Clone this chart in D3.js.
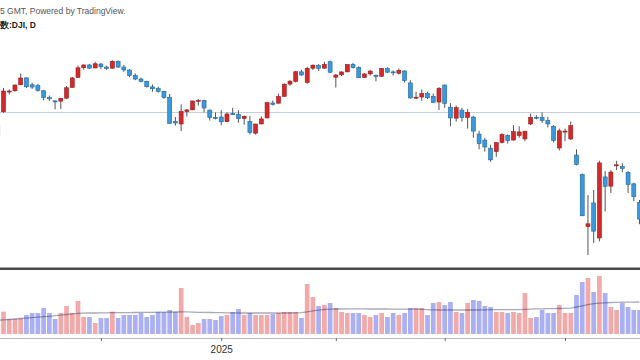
<!DOCTYPE html>
<html>
<head>
<meta charset="utf-8">
<script src="https://cdn.jsdelivr.net/npm/d3@7"></script>
<style>
body { margin: 0; background: #fff; }
svg { display: block; font-family: "Liberation Sans", Arial, sans-serif; }
</style>
</head>
<body>
<script>
// trading days, Nov 5 2024 .. Apr 21 2025
var days = [
  "2024-11-05","2024-11-06","2024-11-07","2024-11-08","2024-11-11","2024-11-12","2024-11-13","2024-11-14","2024-11-15","2024-11-18","2024-11-19","2024-11-20","2024-11-21","2024-11-22","2024-11-25","2024-11-26","2024-11-27","2024-11-29",
  "2024-12-02","2024-12-03","2024-12-04","2024-12-05","2024-12-06","2024-12-09","2024-12-10","2024-12-11","2024-12-12","2024-12-13","2024-12-16","2024-12-17","2024-12-18","2024-12-19","2024-12-20","2024-12-23","2024-12-24","2024-12-26","2024-12-27","2024-12-30","2024-12-31",
  "2025-01-02","2025-01-03","2025-01-06","2025-01-07","2025-01-08","2025-01-10","2025-01-13","2025-01-14","2025-01-15","2025-01-16","2025-01-17","2025-01-21","2025-01-22","2025-01-23","2025-01-24","2025-01-27","2025-01-28","2025-01-29","2025-01-30","2025-01-31",
  "2025-02-03","2025-02-04","2025-02-05","2025-02-06","2025-02-07","2025-02-10","2025-02-11","2025-02-12","2025-02-13","2025-02-14","2025-02-18","2025-02-19","2025-02-20","2025-02-21","2025-02-24","2025-02-25","2025-02-26","2025-02-27","2025-02-28",
  "2025-03-03","2025-03-04","2025-03-05","2025-03-06","2025-03-07","2025-03-10","2025-03-11","2025-03-12","2025-03-13","2025-03-14","2025-03-17","2025-03-18","2025-03-19","2025-03-20","2025-03-21","2025-03-24","2025-03-25","2025-03-26","2025-03-27","2025-03-28","2025-03-31",
  "2025-04-01","2025-04-02","2025-04-03","2025-04-04","2025-04-07","2025-04-08","2025-04-09","2025-04-10","2025-04-11","2025-04-14","2025-04-15","2025-04-16","2025-04-17","2025-04-21"
];

var open = [41794,42830,43700,43740,44000,44300,44000,43960,43740,43440,43300,43290,43420,43880,44320,44740,44860,44730,
  44900,44770,44720,45020,44770,44640,44400,44250,44150,43910,43830,43720,43460,42400,42300,42840,42910,43290,43320,42900,42580,
  42600,42400,42750,42720,42530,42400,41900,42300,42560,43210,43200,43500,44030,44150,44560,44100,44720,44840,44720,45000,
  44330,44430,44560,44880,44750,44310,44470,44400,44370,44700,44560,44500,44600,44080,43440,43470,43630,43500,43250,
  43990,43030,42550,42900,42580,42600,41860,41600,41250,41100,41500,41800,41600,41800,41650,42300,42590,42590,42450,42200,41256,
  41950,41650,40950,40100,37850,38870,37350,40000,39600,40500,40450,40200,39700,38900];
var high = [42257,43860,43800,44010,44486,44320,44090,44040,43780,43530,43320,43430,43940,44340,44830,44880,44900,45000,
  44950,44830,45060,45054,44860,44680,44490,44310,44170,44010,43920,43730,43600,42600,43150,42940,43300,43380,43350,42920,42800,
  42900,42800,43000,42900,42660,42640,42300,42630,43260,43320,43620,44060,44200,44600,44650,44780,44880,44900,45000,45050,
  44470,44580,44890,44950,44800,44500,44650,44450,44720,44760,44620,44700,44620,44200,43700,43800,43700,43620,43900,
  44000,43200,43100,43000,42950,42650,42000,41700,41400,41500,41900,41850,42250,42200,42000,42750,42680,42800,42600,42250,42100,
  42100,42400,41200,40150,39215,39430,40700,40250,40300,40700,40600,40250,39750,39000];
var low = [41737,42780,43580,43700,43990,43860,43820,43700,43320,43300,42930,42950,43380,43870,44310,44650,44680,44720,
  44680,44650,44700,44750,44560,44330,44200,44110,43880,43700,43660,43390,42300,42230,41990,42620,42900,43100,42800,42450,42500,
  42240,42380,42680,42350,42270,41840,41840,42280,42550,43100,43190,43480,43960,44100,44400,44050,44640,44600,44700,44500,
  43880,44380,44540,44700,44290,44300,44400,44150,44330,44500,44400,44450,44100,43400,43380,43300,43380,43200,42900,
  43000,42200,42400,42400,42100,41700,41200,41100,40660,40870,41450,41450,41580,41700,41550,42250,42500,42350,42150,41500,41150,
  41550,41600,40500,38300,36612,37130,37200,38500,39300,40300,40200,39300,38950,37950];
var close = [42222,43729,43729,43989,44293,43911,43900,43751,43445,43390,43268,43408,43870,44297,44736,44860,44722,44911,
  44782,44705,45014,44766,44643,44402,44248,44149,43914,43828,43717,43450,42327,42342,42840,42907,43297,43326,42992,42574,42544,
  42392,42732,42706,42528,42635,41938,42297,42518,43222,43153,43488,44025,44157,44565,44424,44714,44850,44714,44882,44545,
  44422,44556,44873,44747,44303,44470,44594,44368,44711,44546,44556,44628,44177,43428,43461,43621,43433,43240,43841,
  43191,42560,43006,42579,42802,41990,41450,41300,40740,41488,41842,41581,41965,41953,41985,42583,42588,42455,42300,41584,42002,
  41990,42225,40546,38315,37966,37646,40608,39594,40213,40525,40369,39669,39142,38170];

// volume, millions
var volume = [300,372,250,250,260,317,350,350,433,350,250,350,467,350,550,283,283,183,
  267,267,372,267,317,317,317,350,283,317,367,367,400,367,767,283,150,183,250,250,233,
  300,317,367,417,317,350,317,317,317,333,350,367,367,367,267,833,617,467,483,517,
  433,367,350,350,350,317,283,317,350,283,350,317,350,433,433,433,317,517,533,
  483,533,367,350,517,567,550,467,450,367,367,350,367,350,683,267,283,400,350,350,483,
  350,350,650,867,933,700,967,683,450,400,517,450,400,400];
var volumeMA = [230,235,242,250,258,265,272,280,288,295,305,315,325,335,345,348,350,350,
  352,352,355,355,355,357,358,360,360,362,363,365,366,367,370,368,365,362,360,358,356,
  355,353,352,350,350,350,350,350,350,350,350,350,350,352,355,370,385,398,408,415,
  417,417,418,418,418,418,417,417,417,417,416,416,415,415,415,410,405,402,400,
  400,400,400,400,400,400,400,402,405,405,405,405,405,405,410,415,418,420,422,422,425,
  428,430,450,470,490,505,515,520,525,528,530,530,532,533];

var monthTicks = ["2024-12-02","2025-01-02","2025-02-03","2025-03-03","2025-04-01"];
var monthLabels = ["", "2025", "", "", ""];
var refLevel = 42820;

var width = 640,
    height = 360,
    candleW = 4,
    volW = 4.7,
    upColor = "#d22a2a",
    upEdge = "#9c1b1b",
    downColor = "#3a98dc",
    downEdge = "#22679e",
    volUp = "#f2a9a9",
    volDown = "#aab0f2";

var svg = d3.select("body")
    .append("svg")
    .attr("width", width)
    .attr("height", height);

var x = d3.scalePoint()
    .domain(days)
    .range([-2.23, 639.53]);

var y = d3.scaleLinear()
    .domain([36612, 45075])
    .range([255, 60]);

var yv = d3.scaleLinear()
    .domain([0, 1000])
    .range([334, 274]);

var bars = days.map(function(d, i) {
    return {day: d, o: open[i], h: high[i], l: low[i], c: close[i], v: volume[i], ma: volumeMA[i], up: close[i] >= open[i]};
});

// header texts
svg.append("text")
    .attr("x", 0).attr("y", 14)
    .attr("font-size", 8.5).attr("fill", "#555")
    .text("5 GMT, Powered by TradingView.");
svg.append("text")
    .attr("x", 0).attr("y", 28)
    .attr("font-size", 8.5).attr("font-weight", "bold").attr("fill", "#222")
    .text("数:DJI, D");

// reference line
svg.append("line")
    .attr("x1", 0).attr("x2", width)
    .attr("y1", Math.round(y(refLevel)) + 0.5).attr("y2", Math.round(y(refLevel)) + 0.5)
    .attr("stroke", "#c6ced9");

// candles
var candle = svg.append("g").selectAll("g")
    .data(bars)
    .enter()
    .append("g");

candle.append("line")
    .attr("x1", function(d) { return x(d.day); })
    .attr("x2", function(d) { return x(d.day); })
    .attr("y1", function(d) { return y(d.h); })
    .attr("y2", function(d) { return y(d.l); })
    .attr("stroke", "#555")
    .attr("stroke-width", 1);

candle.append("rect")
    .attr("x", function(d) { return x(d.day) - candleW / 2; })
    .attr("width", candleW)
    .attr("y", function(d) { return y(Math.max(d.o, d.c)); })
    .attr("height", function(d) { return Math.max(1, Math.abs(y(d.o) - y(d.c))); })
    .attr("fill", function(d) { return d.up ? upColor : downColor; })
    .attr("stroke", function(d) { return d.up ? upEdge : downEdge; })
    .attr("stroke-width", 0.6);

// pane separator
svg.append("rect")
    .attr("x", 0).attr("y", 267.5)
    .attr("width", width).attr("height", 2.5)
    .attr("fill", "#4a4a4a");

// volume
svg.append("g").selectAll("rect")
    .data(bars)
    .enter()
    .append("rect")
    .attr("x", function(d) { return x(d.day) - volW / 2; })
    .attr("width", volW)
    .attr("y", function(d) { return yv(d.v); })
    .attr("height", function(d) { return yv(0) - yv(d.v); })
    .attr("fill", function(d) { return d.up ? volUp : volDown; });

svg.append("path")
    .datum(bars)
    .attr("fill", "none")
    .attr("stroke", "rgba(30,30,80,0.38)")
    .attr("stroke-width", 1.3)
    .attr("d", d3.line()
        .x(function(d) { return x(d.day); })
        .y(function(d) { return yv(d.ma); }));

// time axis
var axis = d3.axisBottom(x)
    .tickValues(monthTicks)
    .tickSize(3)
    .tickFormat(function(d, i) { return monthLabels[i]; });

var ax = svg.append("g")
    .attr("transform", "translate(0,338)")
    .call(axis);

ax.select(".domain").attr("stroke", "#bbb").attr("d", "M0,0.5H" + width);
ax.selectAll(".tick line").attr("stroke", "#666");
ax.selectAll(".tick text")
    .attr("y", 8)
    .attr("font-size", 10)
    .attr("font-family", "Liberation Sans, Arial, sans-serif")
    .attr("fill", "#333");
</script>
</body>
</html>
